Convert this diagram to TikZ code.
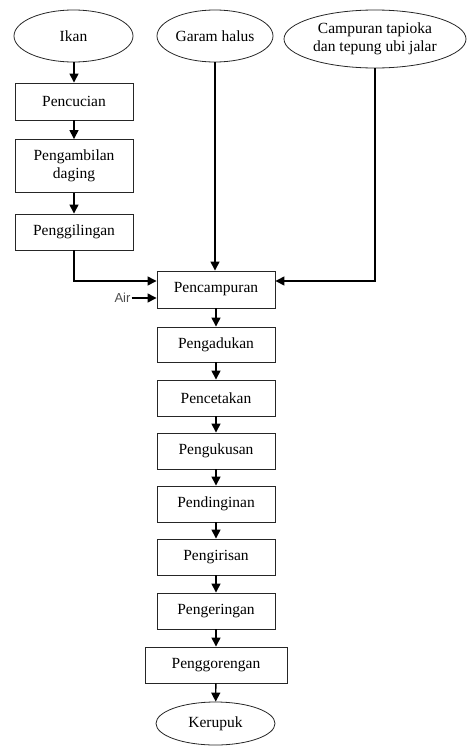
\documentclass[tikz,border=0pt]{standalone}
\usepackage{fontspec}
\setmainfont{Liberation Serif}
\newfontfamily\airfont{Liberation Sans}
\usetikzlibrary{arrows.meta,shapes.geometric}
\begin{document}
\begin{tikzpicture}[x=1pt,y=-1pt,
  every node/.style={font=\fontsize{15.5}{18}\selectfont},
  procbox/.style={draw=black!85,line width=0.9pt,rectangle,minimum width=118pt,minimum height=36pt,inner sep=2pt,align=center},
  termell/.style={draw=black!85,line width=0.8pt,ellipse,inner sep=0pt,align=center},
  flow/.style={line width=1.4pt,-{Triangle[length=9pt,width=9pt]}}]
\useasboundingbox (0,0) rectangle (467,747);
\node[termell,minimum width=119pt,minimum height=52pt] (ikan) at (73.5,36) {Ikan};
\node[termell,minimum width=116pt,minimum height=52pt] (garam) at (215,36) {Garam halus};
\node[termell,minimum width=182pt,minimum height=58pt] (campuran) at (375,39) {Campuran tapioka\\dan tepung ubi jalar};
\node[procbox,minimum height=37pt] (pencucian) at (74,101.5) {Pencucian};
\node[procbox,minimum height=53pt] (pengambilan) at (74,166) {Pengambilan\\daging};
\node[procbox] (penggilingan) at (74,232) {Penggilingan};
\node[procbox,minimum height=37pt] (pencampuran) at (216,289.5) {Pencampuran};
\node[procbox,minimum height=35pt] (pengadukan) at (216,344.5) {Pengadukan};
\node[procbox] (pencetakan) at (216,398) {Pencetakan};
\node[procbox] (pengukusan) at (216,451) {Pengukusan};
\node[procbox] (pendinginan) at (216,504) {Pendinginan};
\node[procbox] (pengirisan) at (216,557) {Pengirisan};
\node[procbox] (pengeringan) at (216,611) {Pengeringan};
\node[procbox,minimum width=142pt] (penggorengan) at (216,665) {Penggorengan};
\node[termell,minimum width=119pt,minimum height=43pt] (kerupuk) at (215.5,723.5) {Kerupuk};
\node[font=\airfont\fontsize{13}{15}\selectfont,text=black!70,inner sep=1pt] (air) at (122.5,298) {Air};
\coordinate (lin) at (0,281);
\draw[flow] (ikan.south -| pencucian.north) -- (pencucian.north);
\draw[flow] (pencucian) -- (pengambilan);
\draw[flow] (pengambilan) -- (penggilingan);
\draw[flow] (penggilingan.south) |- (pencampuran.west |- lin);
\draw[flow] (garam.south) -- (garam.south |- pencampuran.north);
\draw[flow] (campuran.south) |- (pencampuran.east |- lin);
\draw[flow] (air.east) -- (pencampuran.west |- air);
\draw[flow] (pencampuran) -- (pengadukan);
\draw[flow] (pengadukan) -- (pencetakan);
\draw[flow] (pencetakan) -- (pengukusan);
\draw[flow] (pengukusan) -- (pendinginan);
\draw[flow] (pendinginan) -- (pengirisan);
\draw[flow] (pengirisan) -- (pengeringan);
\draw[flow] (pengeringan) -- (penggorengan);
\draw[flow] (penggorengan) -- (kerupuk);
\end{tikzpicture}
\end{document}
